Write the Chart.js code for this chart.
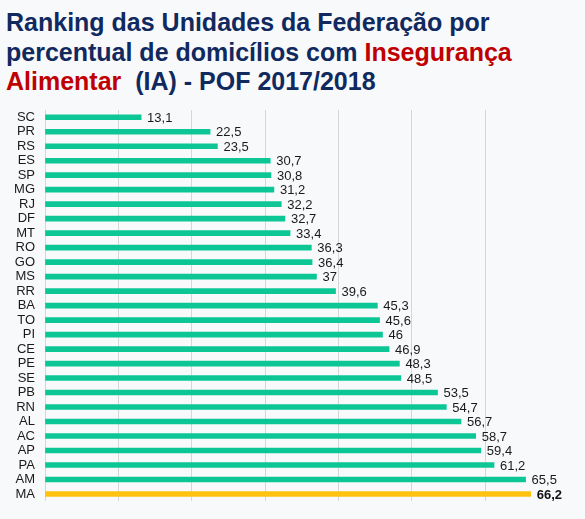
<!DOCTYPE html>
<html>
<head>
<meta charset="utf-8">
<script src="https://cdn.jsdelivr.net/npm/chart.js@4"></script>
<style>
  html, body { margin: 0; padding: 0; background: #F8F9FB; }
  #wrap { position: relative; width: 585px; height: 519px; overflow: hidden; }
  #title {
    position: absolute; left: 6px; top: 8px; white-space: nowrap;
    font-family: "Liberation Sans", Arial, sans-serif; font-weight: bold;
    font-size: 25px; line-height: 29.5px; color: #10295E;
  }
  #title .red { color: #C00000; }
  canvas { position: absolute; left: 0; top: 0; }
</style>
</head>
<body>
<div id="wrap">
  <div id="title">Ranking das Unidades da Federação por<br>percentual de domicílios com <span class="red">Insegurança</span><br><span class="red">Alimentar</span>&nbsp; (IA) - POF 2017/2018</div>
  <canvas id="chart" width="585" height="519"></canvas>
</div>
<script>
// Unidades da Federação, ordered as in the ranking
const states = ['SC', 'PR', 'RS', 'ES', 'SP', 'MG', 'RJ', 'DF', 'MT', 'RO', 'GO', 'MS', 'RR', 'BA',
  'TO', 'PI', 'CE', 'PE', 'SE', 'PB', 'RN', 'AL', 'AC', 'AP', 'PA', 'AM', 'MA'];

// % of households with food insecurity
const iaPercent = [13.1, 22.5, 23.5, 30.7, 30.8, 31.2, 32.2, 32.7, 33.4, 36.3, 36.4, 37, 39.6, 45.3,
  45.6, 46, 46.9, 48.3, 48.5, 53.5, 54.7, 56.7, 58.7, 59.4, 61.2, 65.5, 66.2];

const GREEN = '#0CC795';
const GOLD = '#FFC20E';
const highlight = 'MA';

const barColors = states.map(s => s === highlight ? GOLD : GREEN);

// draws the value next to the end of each bar
const valueLabels = {
  id: 'valueLabels',
  afterDatasetsDraw(chart) {
    const ctx = chart.ctx;
    const meta = chart.getDatasetMeta(0);
    ctx.save();
    ctx.textBaseline = 'middle';
    ctx.textAlign = 'left';
    meta.data.forEach((bar, i) => {
      const bold = states[i] === highlight;
      ctx.font = (bold ? 'bold ' : '') + '13px "Liberation Sans", Arial, sans-serif';
      ctx.fillStyle = bold ? '#111' : '#1a1a1a';
      const txt = String(iaPercent[i]).replace('.', ',');
      ctx.fillText(txt, bar.x + 6, bar.y + 1);
    });
    ctx.restore();
  }
};

new Chart(document.getElementById('chart'), {
  type: 'bar',
  data: {
    labels: states,
    datasets: [{
      data: iaPercent,
      backgroundColor: barColors,
      barThickness: 5
    }]
  },
  options: {
    indexAxis: 'y',
    responsive: false,
    animation: false,
    layout: { padding: { top: 110, bottom: 9, left: 0, right: 0 } },
    plugins: {
      legend: { display: false },
      tooltip: { enabled: false }
    },
    scales: {
      x: {
        min: 0,
        max: 73.6,
        ticks: { display: false, stepSize: 10 },
        afterBuildTicks: (scale) => {
          scale.ticks = scale.ticks.filter(t => t.value % 10 === 0);
        },
        border: { display: false },
        grid: { color: '#D6D6D6', lineWidth: 1, drawTicks: false }
      },
      y: {
        afterFit: (scale) => { scale.width = 45; },
        ticks: {
          autoSkip: false,
          padding: 10,
          color: '#1a1a1a',
          font: { family: '"Liberation Sans", Arial, sans-serif', size: 13 }
        },
        border: { display: false },
        grid: { display: false, drawTicks: false }
      }
    }
  },
  plugins: [valueLabels]
});
</script>
</body>
</html>
